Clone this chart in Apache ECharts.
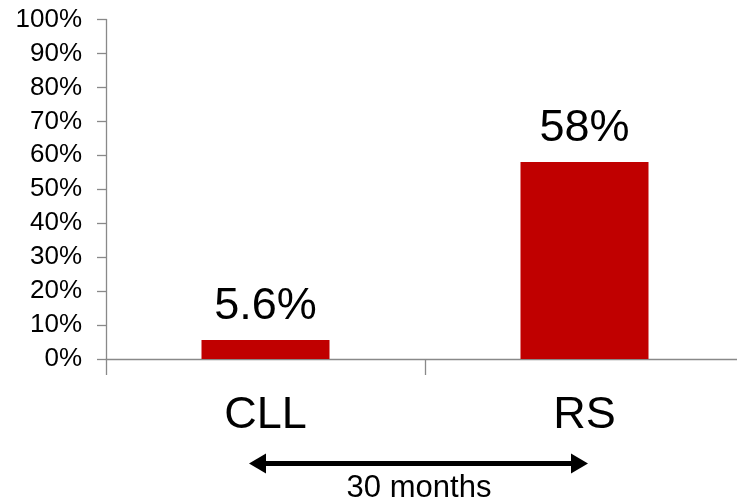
<!DOCTYPE html>
<html>
<head>
<meta charset="utf-8">
<script src="https://cdn.jsdelivr.net/npm/echarts@6/dist/echarts.min.js"></script>
<style>
  html, body { margin: 0; padding: 0; background: #fff; }
  #chart { width: 737px; height: 501px; }
</style>
</head>
<body>
<div id="chart"></div>
<script>
// Share of cases by stage
const categories = ['CLL', 'RS'];
const values = [5.6, 58];
const valueLabels = ['5.6%', '58%'];
const yTicks = [0, 10, 20, 30, 40, 50, 60, 70, 80, 90, 100];
const spanLabel = '30 months';

const FONT = '"Liberation Sans", Arial, sans-serif';
const AXIS_GREY = '#898989';

const chart = echarts.init(document.getElementById('chart'), null, { renderer: 'canvas' });

chart.setOption({
  animation: false,
  backgroundColor: '#ffffff',
  // plot area runs a little past the right edge of the canvas
  grid: { left: 106, width: 638, top: 19.5, bottom: 142, outerBoundsMode: 'none' },
  xAxis: {
    type: 'category',
    data: categories,
    axisLine: { show: true, lineStyle: { color: AXIS_GREY, width: 1.3 } },
    axisTick: { show: true, length: 16, lineStyle: { color: AXIS_GREY, width: 1.3 } },
    axisLabel: {
      color: '#000', fontFamily: FONT, fontSize: 45, lineHeight: 45, margin: 34
    }
  },
  yAxis: {
    type: 'value',
    min: yTicks[0],
    max: yTicks[yTicks.length - 1],
    interval: yTicks[1] - yTicks[0],
    splitLine: { show: false },
    axisLine: { show: true, lineStyle: { color: AXIS_GREY, width: 1.3 } },
    axisTick: { show: true, length: 9, lineStyle: { color: AXIS_GREY, width: 1.3 } },
    axisLabel: {
      color: '#000', fontFamily: FONT, fontSize: 26, margin: 24,
      formatter: v => v + '%'
    }
  },
  series: [{
    type: 'bar',
    data: values,
    barWidth: 128,
    itemStyle: { color: '#C00000' },
    label: {
      show: true,
      position: 'top',
      distance: 11,
      color: '#000',
      fontFamily: FONT,
      fontSize: 45,
      lineHeight: 45,
      formatter: p => valueLabels[p.dataIndex]
    }
  }]
});

// Double-headed arrow spanning the time between the two stages
const arrowY = 463.5;
const xL = 249, xR = 588, head = 17, halfH = 10;
chart.setOption({
  graphic: [
    {
      type: 'line',
      shape: { x1: xL + head - 1, y1: arrowY, x2: xR - head + 1, y2: arrowY },
      style: { stroke: '#000', lineWidth: 5 }
    },
    {
      type: 'polygon',
      shape: { points: [[xL, arrowY], [xL + head, arrowY - halfH], [xL + head, arrowY + halfH]] },
      style: { fill: '#000' }
    },
    {
      type: 'polygon',
      shape: { points: [[xR, arrowY], [xR - head, arrowY - halfH], [xR - head, arrowY + halfH]] },
      style: { fill: '#000' }
    },
    {
      type: 'text',
      x: 419,
      y: 488,
      style: {
        text: spanLabel,
        fill: '#000',
        font: '31px ' + FONT,
        textAlign: 'center',
        textVerticalAlign: 'middle'
      }
    }
  ]
});
</script>
</body>
</html>
